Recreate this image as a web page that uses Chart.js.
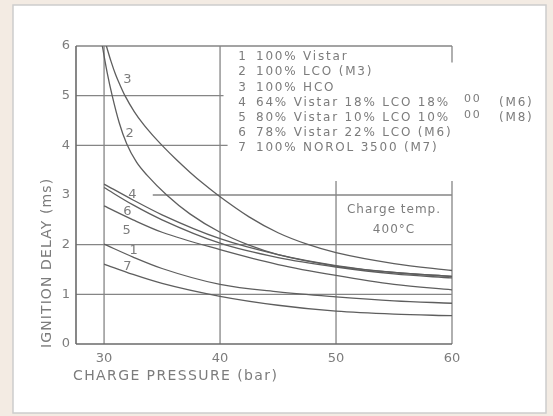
<!DOCTYPE html>
<html>
<head>
<meta charset="utf-8">
<title>Ignition delay</title>
<script src="https://cdn.jsdelivr.net/npm/chart.js@4.4.1/dist/chart.umd.min.js"></script>
<style>
  body { margin: 0; background: #f3ebe3; }
  canvas { display: block; }
</style>
</head>
<body>
<canvas id="myChart" width="553" height="416"></canvas>
<script>
// datos
const pressure = [30, 32.5, 35, 40, 45, 50, 55, 60]
const pressureLCO = [29.85, 30.28, 30.7, 31.3, 31.95, 32.8, 33.7, 35.4, 37.4, 40, 42.5, 45, 50, 55, 60]
const pressureHCO = [30.2, 30.6, 31.0, 31.4, 31.8, 32.6, 33.4, 34.2, 35, 36.2, 37.4, 38.6, 39.8, 42.5, 45, 47.5, 50, 55, 60]

const delayVistar = [2.01, 1.75, 1.52, 1.2, 1.05, 0.95, 0.87, 0.82]
const delayLCO = [6.0, 5.45, 5.0, 4.46, 4.03, 3.66, 3.4, 3.0, 2.62, 2.25, 1.99, 1.8, 1.57, 1.44, 1.36]
const delayHCO = [6.0, 5.69, 5.42, 5.2, 5.0, 4.68, 4.42, 4.2, 4.0, 3.72, 3.46, 3.22, 3.0, 2.56, 2.24, 2.01, 1.84, 1.62, 1.48]
const delayM6a = [3.22, 2.9, 2.6, 2.12, 1.8, 1.58, 1.44, 1.36]
const delayM8 = [2.78, 2.5, 2.25, 1.9, 1.6, 1.38, 1.2, 1.09]
const delayM6b = [3.15, 2.8, 2.5, 2.03, 1.74, 1.55, 1.41, 1.33]
const delayNorol = [1.61, 1.4, 1.22, 0.96, 0.78, 0.66, 0.6, 0.57]

const curveNumbers = ['1', '2', '3', '4', '5', '6', '7']
const fuelNames = [
  '100% Vistar',
  '100% LCO (M3)',
  '100% HCO',
  '64% Vistar 18% LCO 18%',
  '80% Vistar 10% LCO 10%',
  '78% Vistar 22% LCO (M6)',
  '100% NOROL 3500 (M7)'
]
const fuelExtra = ['', '', '', '00', '00', '', '']
const fuelCodes = ['', '', '', '(M6)', '(M8)', '', '']

const xTicks = [30, 40, 50, 60]
const yTicks = [0, 1, 2, 3, 4, 5, 6]

// donde va el numero de cada curva (en unidades del grafico)
const curveLabelX = [32.55, 32.2, 32.0, 32.45, 31.95, 32.0, 32.0]
const curveLabelY = [1.89, 4.23, 5.32, 3.0, 2.29, 2.66, 1.55]

const ink = '#5e5e5e'
const gridInk = '#858585'
const textInk = '#7c7c7c'
const font = '"DejaVu Sans"'

function toPoints(xs, ys) {
  return xs.map((x, i) => ({ x: x, y: ys[i] }))
}

const seriesData = [
  toPoints(pressure, delayVistar),
  toPoints(pressureLCO, delayLCO),
  toPoints(pressureHCO, delayHCO),
  toPoints(pressure, delayM6a),
  toPoints(pressure, delayM8),
  toPoints(pressure, delayM6b),
  toPoints(pressure, delayNorol)
]

const datasets = seriesData.map((pts, i) => ({
  label: curveNumbers[i] + ' ' + fuelNames[i],
  data: pts,
  borderColor: ink,
  borderWidth: 1.3,
  pointRadius: 0,
  fill: false,
  cubicInterpolationMode: 'monotone'
}))

// hoja blanca, rejilla partida, leyenda y textos
const paperPlugin = {
  id: 'paper',
  beforeDraw(chart) {
    const ctx = chart.ctx
    ctx.save()
    ctx.fillStyle = '#ffffff'
    ctx.fillRect(13, 5, 533, 408)
    ctx.strokeStyle = '#cdcdcd'
    ctx.lineWidth = 1.5
    ctx.strokeRect(13, 5, 533, 408)
    ctx.restore()
  },
  beforeDatasetsDraw(chart) {
    const ctx = chart.ctx
    const xs = chart.scales.x
    const ys = chart.scales.y
    const x0 = xs.min
    const seg = (xa, ya, xb, yb) => {
      ctx.beginPath()
      ctx.moveTo(xs.getPixelForValue(xa), ys.getPixelForValue(ya))
      ctx.lineTo(xs.getPixelForValue(xb), ys.getPixelForValue(yb))
      ctx.stroke()
    }
    ctx.save()
    ctx.strokeStyle = gridInk
    ctx.lineWidth = 1.3
    // horizontales
    seg(x0, 1, 60, 1)
    seg(x0, 2, 60, 2)
    seg(34.2, 3, 60, 3)
    seg(x0, 4, 40.65, 4)
    seg(x0, 5, 40.3, 5)
    seg(x0, 6, 60, 6)
    // verticales
    seg(30, 0, 30, 6)
    seg(40, 0, 40, 6)
    seg(50, 0, 50, 3.28)
    seg(60, 0, 60, 3.28)
    seg(60, 5.67, 60, 6)
    // ejes
    ctx.strokeStyle = '#6a6a6a'
    ctx.lineWidth = 1.6
    seg(x0, 0, x0, 6)
    seg(x0, 0, 60, 0)
    ctx.restore()
  },
  afterDatasetsDraw(chart) {
    const ctx = chart.ctx
    const xs = chart.scales.x
    const ys = chart.scales.y
    ctx.save()
    ctx.fillStyle = textInk
    ctx.textBaseline = 'middle'
    ctx.font = '13px ' + font

    // numeros sobre las curvas
    ctx.textAlign = 'center'
    curveNumbers.forEach((n, i) => {
      ctx.fillText(n, xs.getPixelForValue(curveLabelX[i]), ys.getPixelForValue(curveLabelY[i]))
    })

    // leyenda
    ctx.font = '12px ' + font
    ctx.letterSpacing = '1.8px'
    const top = 57
    const step = 15.2
    fuelNames.forEach((name, i) => {
      const y = top + i * step
      ctx.textAlign = 'center'
      ctx.fillText(curveNumbers[i], 243, y)
      ctx.textAlign = 'left'
      ctx.fillText(name, 256, y)
      if (fuelExtra[i]) {
        ctx.font = '11px ' + font
        ctx.fillText(fuelExtra[i], 464, y - 3)
        ctx.font = '12px ' + font
      }
      if (fuelCodes[i]) ctx.fillText(fuelCodes[i], 499, y)
    })

    // caja de temperatura
    ctx.letterSpacing = '1px'
    ctx.textAlign = 'center'
    const cx = xs.getPixelForValue(55)
    ctx.fillText('Charge temp.', cx, ys.getPixelForValue(2.71))
    ctx.fillText('400°C', cx, ys.getPixelForValue(2.3))

    // titulos de los ejes
    ctx.font = '14px ' + font
    ctx.letterSpacing = '1.4px'
    ctx.textAlign = 'left'
    ctx.fillText('CHARGE PRESSURE (bar)', 73, 376)
    ctx.letterSpacing = '1.1px'
    ctx.translate(47, 348)
    ctx.rotate(-Math.PI / 2)
    ctx.fillText('IGNITION DELAY (ms)', 0, 0)
    ctx.restore()
  }
}

const ctx = document.getElementById('myChart').getContext('2d')
const myChart = new Chart(ctx, {
  type: 'line',
  data: { datasets: datasets },
  plugins: [paperPlugin],
  options: {
    responsive: false,
    animation: false,
    layout: { padding: { left: 0, right: 101, top: 46, bottom: 0 } },
    plugins: {
      legend: { display: false },
      tooltip: { enabled: false }
    },
    scales: {
      x: {
        type: 'linear',
        min: 27.58,
        max: 60,
        grid: { display: false, drawTicks: false },
        border: { display: false },
        afterBuildTicks: (scale) => { scale.ticks = xTicks.map(v => ({ value: v })) },
        afterFit: (scale) => { scale.height = 72 },
        ticks: {
          color: textInk,
          font: { family: 'DejaVu Sans', size: 13 },
          padding: 7,
          maxRotation: 0
        }
      },
      y: {
        type: 'linear',
        min: 0,
        max: 6,
        grid: { display: false, drawTicks: false },
        border: { display: false },
        afterBuildTicks: (scale) => { scale.ticks = yTicks.map(v => ({ value: v })) },
        afterFit: (scale) => { scale.width = 76 },
        ticks: {
          color: textInk,
          font: { family: 'DejaVu Sans', size: 13 },
          padding: 6
        }
      }
    }
  }
})
</script>
</body>
</html>
